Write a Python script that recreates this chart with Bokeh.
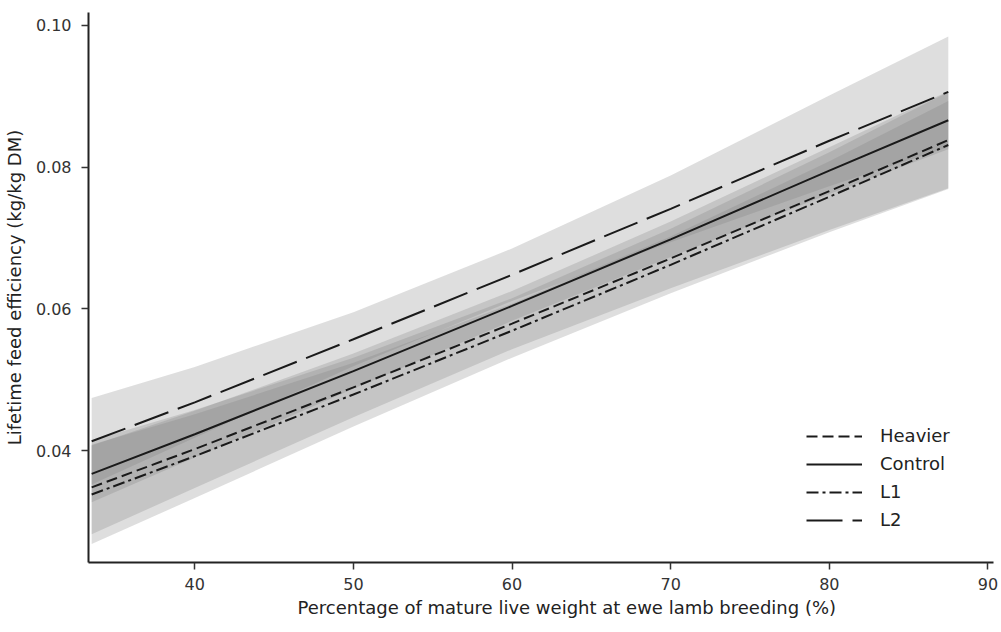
from bokeh.plotting import figure
from bokeh.models import Range1d, FixedTicker, Legend, LegendItem, Title
from bokeh.embed import file_html
from bokeh.resources import INLINE

# Data
x_vals = [33.5, 40, 50, 60, 70, 80, 87.5]

heavier = [0.0348, 0.0402, 0.0489, 0.0579, 0.0671, 0.0766, 0.0838]
heavier_lo = [0.0282, 0.0347, 0.0447, 0.0543, 0.0629, 0.0711, 0.0770]
heavier_hi = [0.0414, 0.0457, 0.0531, 0.0615, 0.0713, 0.0821, 0.0906]

control = [0.0367, 0.0423, 0.0512, 0.0604, 0.0698, 0.0795, 0.0866]
control_lo = [0.0327, 0.0390, 0.0487, 0.0583, 0.0673, 0.0762, 0.0825]
control_hi = [0.0407, 0.0456, 0.0537, 0.0625, 0.0723, 0.0828, 0.0907]

l1 = [0.0338, 0.0392, 0.0479, 0.0569, 0.0662, 0.0758, 0.0831]
l1_lo = [0.0268, 0.0333, 0.0434, 0.0531, 0.0622, 0.0708, 0.0769]
l1_hi = [0.0408, 0.0451, 0.0524, 0.0607, 0.0702, 0.0808, 0.0893]

l2 = [0.0413, 0.0468, 0.0557, 0.0648, 0.0741, 0.0837, 0.0906]
l2_lo = [0.0352, 0.0418, 0.0519, 0.0611, 0.0694, 0.0773, 0.0828]
l2_hi = [0.0474, 0.0518, 0.0595, 0.0685, 0.0788, 0.0901, 0.0984]

x_ticks = [40, 50, 60, 70, 80, 90]
y_ticks = [0.04, 0.06, 0.08, 0.10]
y_tick_labels = {0.04: "0.04", 0.06: "0.06", 0.08: "0.08", 0.10: "0.10"}

series_names = ["Heavier", "Control", "L1", "L2"]
x_label = "Percentage of mature live weight at ewe lamb breeding (%)"
y_label = "Lifetime feed efficiency (kg/kg DM)"

FONT = "DejaVu Sans"

p = figure(width=1001, height=632, output_backend="svg", toolbar_location=None,
           x_range=Range1d(33.3, 90.35), y_range=Range1d(0.0242, 0.1018),
           min_border_left=88, min_border_right=8, min_border_top=12, min_border_bottom=70)
p.outline_line_color = None
p.xgrid.visible = False
p.ygrid.visible = False
p.background_fill_color = "white"
p.border_fill_color = "white"

band_color = "#7a7a7a"
band_alpha = 0.25
for lo, hi in [(l2_lo, l2_hi), (heavier_lo, heavier_hi), (l1_lo, l1_hi), (control_lo, control_hi)]:
    p.varea(x=x_vals, y1=lo, y2=hi, fill_color=band_color, fill_alpha=band_alpha)

lc = "#1a1a1a"
r_heavier = p.line(x_vals, heavier, line_color=lc, line_width=2, line_dash="11 5")
r_control = p.line(x_vals, control, line_color=lc, line_width=2)
r_l1 = p.line(x_vals, l1, line_color=lc, line_width=2, line_dash="12 4 3 4")
r_l2 = p.line(x_vals, l2, line_color=lc, line_width=2, line_dash="36 10")

legend = Legend(items=[
    LegendItem(label=series_names[0], renderers=[r_heavier]),
    LegendItem(label=series_names[1], renderers=[r_control]),
    LegendItem(label=series_names[2], renderers=[r_l1]),
    LegendItem(label=series_names[3], renderers=[r_l2]),
], location=(718, 32))
legend.background_fill_alpha = 0
legend.border_line_color = None
legend.label_text_font = FONT
legend.label_text_font_size = "18px"
legend.label_text_color = "#222222"
legend.glyph_width = 56
legend.glyph_height = 20
legend.label_height = 20
legend.spacing = 7
legend.padding = 4
legend.label_standoff = 18
p.add_layout(legend, "center")

p.xaxis.ticker = FixedTicker(ticks=x_ticks)
p.yaxis.ticker = FixedTicker(ticks=y_ticks)
p.yaxis.major_label_overrides = y_tick_labels
p.yaxis.axis_label = y_label

for ax in [p.xaxis, p.yaxis]:
    ax.axis_line_color = "#222222"
    ax.axis_line_width = 2
    ax.major_tick_line_color = "#333333"
    ax.major_tick_line_width = 1.5
    ax.major_tick_out = 7
    ax.major_tick_in = 0
    ax.minor_tick_line_color = None
    ax.major_label_text_font = FONT
    ax.major_label_text_font_size = "16px"
    ax.major_label_text_color = "#333333"
    ax.axis_label_text_font = FONT
    ax.axis_label_text_font_size = "18px"
    ax.axis_label_text_font_style = "normal"
    ax.axis_label_text_color = "#222222"

p.xaxis.major_label_standoff = 8
p.yaxis.major_label_standoff = 10
p.yaxis.axis_label_standoff = 8

xt = Title(text=x_label, align="left", offset=209, text_font=FONT,
           text_font_size="18px", text_font_style="normal", text_color="#222222",
           standoff=4)
p.add_layout(xt, "below")

open("out.html", "w").write(file_html(p, INLINE))
